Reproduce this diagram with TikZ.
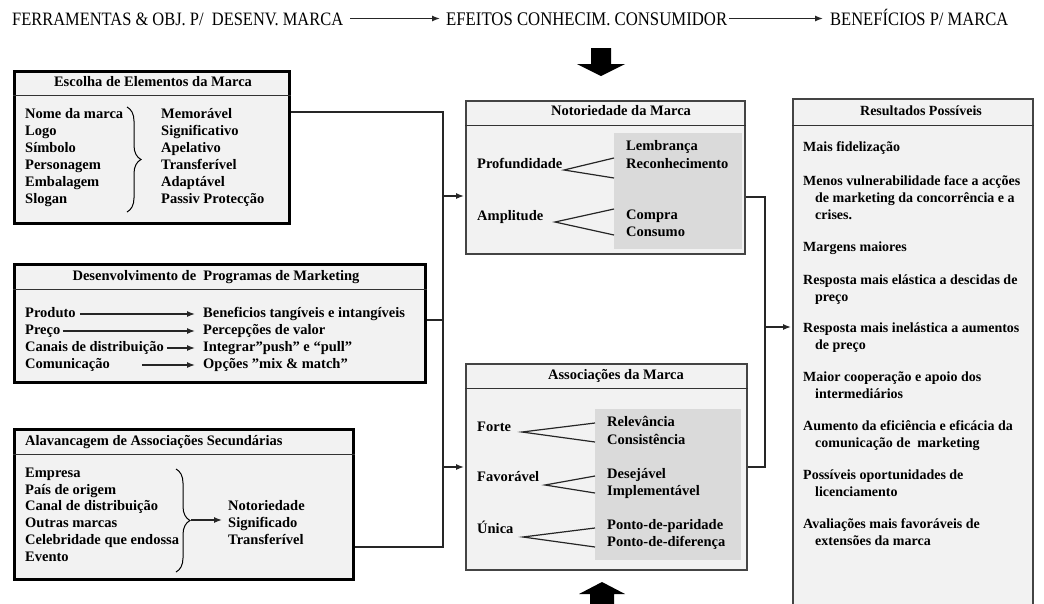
\documentclass[tikz,border=0pt]{standalone}
\usepackage{fontspec}
\usepackage{graphicx}
\setmainfont{Liberation Serif}
\usetikzlibrary{arrows.meta,decorations.pathreplacing,calc}
\definecolor{boxfill}{HTML}{F2F2F2}
\definecolor{innergray}{HTML}{DADADA}
\definecolor{linegray}{HTML}{444444}
\begin{document}
\begin{tikzpicture}[x=1pt,y=-1pt,
  every node/.style={inner sep=0pt},
  txt/.style={anchor=west, text height=10pt, text depth=3pt, font=\fontsize{14.5}{17}\selectfont\bfseries},
  rtxt/.style={anchor=west, text height=10pt, text depth=3pt, font=\fontsize{14}{17}\selectfont\bfseries},
  hdr/.style={anchor=base west, font=\fontsize{15.5}{18}\selectfont},
  bigbox/.style={draw=black, line width=2.6pt, fill=boxfill, anchor=north west},
  midbox/.style={draw=linegray, line width=1.6pt, fill=boxfill, anchor=north west},
  sepline/.style={draw=black!80, line width=1pt},
  conn/.style={draw=black!85, line width=1.3pt},
  arr/.style={conn, -{Latex[length=8pt,width=6pt]}},
  tri/.style={draw=black!85, line width=1.2pt},
  brc/.style={draw=black, line width=1pt, decorate, decoration={brace, amplitude=14pt}},
]
\clip (0,0) rectangle (1044,603);
\fill[white] (0,0) rectangle (1044,603);

% ---------- header ----------
\node[hdr] (h1) at (12,25) {\scalebox{1}[1.15]{\resizebox{331pt}{!}{FERRAMENTAS \& OBJ. P/\ \ DESENV. MARCA}}};
\node[hdr] (h2) at (446,25) {\scalebox{1}[1.15]{\resizebox{281pt}{!}{EFEITOS CONHECIM. CONSUMIDOR}}};
\node[hdr] (h3) at (830,25) {\scalebox{1}[1.15]{\resizebox{178pt}{!}{BENEFÍCIOS P/ MARCA}}};
\draw[arr] ($(h1.base east)+(7,-6.5)$) -- ($(h2.base west)+(-6,-6.5)$);
\draw[arr] ($(h2.base east)+(2,-6.5)$) -- ($(h3.base west)+(-7,-6.5)$);

% block arrows
\fill[black] (591,48) -- (611,48) -- (611,64) -- (625,64) -- (601,76) -- (577,64) -- (591,64) -- cycle;
\fill[black] (590,610) -- (590,594) -- (579,594) -- (602,582) -- (625,594) -- (614,594) -- (614,610) -- cycle;

% ---------- box 1 ----------
\node[bigbox, minimum width=275pt, minimum height=152pt] (b1) at (13,70) {};
\draw[sepline] ($(b1.north west)+(0,25)$) -- ($(b1.north east)+(0,25)$);
\node[txt, anchor=center] (t1) at (153,83) {Escolha de Elementos da Marca};
\foreach \t [count=\i] in {Nome da marca, Logo, Símbolo, Personagem, Embalagem, Slogan}
  \node[txt] (ea\i) at (25,98+17*\i) {\t};
\foreach \t [count=\i] in {Memorável, Significativo, Apelativo, Transferível, Adaptável, Passiv Protecção}
  \node[txt] (eb\i) at (161,98+17*\i) {\t};
\coordinate (br1a) at (127,107);
\coordinate (br1b) at (127,212);
\draw[brc] (br1a) -- (br1b);

% ---------- box 2 ----------
\node[bigbox, minimum width=411pt, minimum height=118pt] (b2) at (13,263) {};
\draw[sepline] ($(b2.north west)+(0,26)$) -- ($(b2.north east)+(0,26)$);
\node[txt, anchor=center] (t2) at (216,277) {Desenvolvimento de\ \ Programas de Marketing};
\node[txt] (pl1) at (25,314) {Produto};
\node[txt] (pl2) at (25,331) {Preço};
\node[txt] (pl3) at (25,348) {Canais de distribuição};
\node[txt] (pl4) at (25,365) {Comunicação};
\node[txt] (pr1) at (203,314) {Beneficios tangíveis e intangíveis};
\node[txt] (pr2) at (203,331) {Percepções de valor};
\node[txt] (pr3) at (203,348) {Integrar”push” e “pull”};
\node[txt] (pr4) at (203,365) {Opções "mix \& match"};
\draw[arr] ([xshift=4pt]pl1.east) -- ([xshift=-8pt]pr1.west);
\draw[arr] ([xshift=2pt]pl2.east) -- ([xshift=-8pt]pr2.west);
\draw[arr] ([xshift=3pt]pl3.east) -- ([xshift=-8pt]pr3.west);
\draw[arr] ([xshift=32pt]pl4.east) -- ([xshift=-8pt]pr4.west);

% ---------- box 3 ----------
\node[bigbox, minimum width=339pt, minimum height=150pt] (b3) at (13,428) {};
\draw[sepline] ($(b3.north west)+(0,26)$) -- ($(b3.north east)+(0,26)$);
\node[txt] (t3) at (25,442) {Alavancagem de Associações Secundárias};
\foreach \t [count=\i] in {Empresa, País de origem, Canal de distribuição, Outras marcas, Celebridade que endossa, Evento}
  \node[txt] (sa\i) at (25,457+16.8*\i) {\t};
\foreach \t [count=\i] in {Notoriedade, Significado, Transferível}
  \node[txt] (sb\i) at (228,490+17*\i) {\t};
\coordinate (br3a) at (176,469);
\coordinate (br3b) at (176,572);
\draw[brc] (br3a) -- (br3b);
\coordinate (br3tip) at (191,520);
\draw[arr] (br3tip) -- ([xshift=-6pt]sb1.west |- br3tip);

% ---------- Notoriedade ----------
\node[midbox, minimum width=279pt, minimum height=153pt] (not) at (465,100) {};
\fill[innergray] (614,133) rectangle (742,249);
\draw[sepline] ($(not.north west)+(0,25)$) -- ($(not.north east)+(0,25)$);
\node[txt, anchor=center] (tn) at (621,112) {Notoriedade da Marca};
\node[txt] (pf) at (477,165) {Profundidade};
\node[txt] (am) at (477,217) {Amplitude};
\node[txt] (lb) at (626,147) {Lembrança};
\node[txt] (rc) at (626,165) {Reconhecimento};
\node[txt] (cp) at (626,216) {Compra};
\node[txt] (cs) at (626,233) {Consumo};
\draw[tri] (614,158) -- (564,170) -- (614,178);
\draw[tri] (614,209) -- (555,222) -- (614,235);

% ---------- Associações ----------
\node[midbox, minimum width=281pt, minimum height=206pt] (asc) at (465,363) {};
\fill[innergray] (595,409) rectangle (741,560);
\draw[sepline] ($(asc.north west)+(0,25)$) -- ($(asc.north east)+(0,25)$);
\node[txt, anchor=center] (ta) at (616,376) {Associações da Marca};
\node[txt] (fo) at (477,428) {Forte};
\node[txt] (fa) at (477,478) {Favorável};
\node[txt] (un) at (477,530) {Única};
\node[txt] (re) at (607,423) {Relevância};
\node[txt] (co) at (607,441) {Consistência};
\node[txt] (de) at (607,475) {Desejável};
\node[txt] (im) at (607,492) {Implementável};
\node[txt] (pp) at (607,526) {Ponto-de-paridade};
\node[txt] (pd) at (607,543) {Ponto-de-diferença};
\draw[tri] (595,423) -- (522,432) -- (595,442);
\draw[tri] (595,476) -- (545,485) -- (595,493);
\draw[tri] (595,528) -- (523,537) -- (595,547);

% ---------- Resultados ----------
\node[midbox, minimum width=240pt, minimum height=530pt] (res) at (792,98) {};
\draw[sepline] ($(res.north west)+(0,27)$) -- ($(res.north east)+(0,27)$);
\node[rtxt, anchor=center] (tr) at (921,112) {Resultados Possíveis};
\foreach \x/\y/\t [count=\i] in {
  803/148/Mais fidelização,
  803/182/Menos vulnerabilidade face a acções,
  815/199/de marketing da concorrência e a,
  815/216/crises.,
  803/248/Margens maiores,
  803/281/Resposta mais elástica a descidas de,
  815/298/preço,
  803/329/Resposta mais inelástica a aumentos,
  815/346/de preço,
  803/378/Maior cooperação e apoio dos,
  815/395/intermediários,
  803/427/Aumento da eficiência e eficácia da,
  815/444/comunicação de\ \ marketing,
  803/476/Possíveis oportunidades de,
  815/493/licenciamento,
  803/525/Avaliações mais favoráveis de,
  815/542/extensões da marca}
  \node[rtxt] (rs\i) at (\x,\y) {\t};

% ---------- connectors ----------
\coordinate (j1) at (443,112);
\coordinate (j2) at (443,320);
\coordinate (j3) at (443,547);
\coordinate (ja) at (443,196);
\coordinate (jb) at (443,467);
\draw[conn] (b1.east |- j1) -- (j1) -- (j3) -- (b3.east |- j3);
\draw[conn] (b2.east |- j2) -- (j2);
\draw[arr, shorten >=1pt] (ja) -- (not.west |- ja);
\draw[arr, shorten >=1pt] (jb) -- (asc.west |- jb);

\coordinate (k1) at (765,197);
\coordinate (k2) at (765,467);
\coordinate (k3) at (765,327);
\draw[conn] (not.east |- k1) -- (k1) -- (k2) -- (asc.east |- k2);
\draw[arr, shorten >=1pt] (k3) -- (res.west |- k3);
\end{tikzpicture}
\end{document}
